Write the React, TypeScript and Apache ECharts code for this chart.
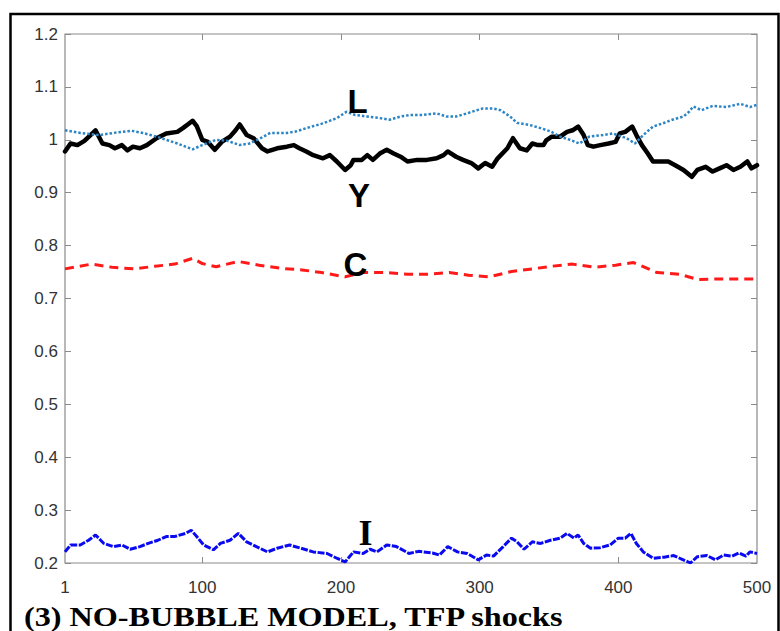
import React, { useEffect, useRef } from "react";
import * as echarts from "echarts";

// Output Y (black solid)
const tY = [1, 5, 10, 15, 19, 23, 28, 33, 37, 42, 46, 50, 55, 60, 67, 74, 82, 86, 90, 93, 96, 100, 104, 109, 114, 120, 124, 127, 132, 137, 143, 147, 154, 161, 166, 170, 175, 180, 187, 192, 197, 203, 207, 209, 215, 219, 223, 228, 233, 238, 243, 248, 255, 262, 269, 274, 277, 283, 288, 294, 299, 304, 309, 313, 320, 324, 329, 334, 338, 342, 346, 348, 352, 358, 363, 367, 371, 375, 378, 382, 387, 393, 398, 401, 405, 410, 413, 417, 421, 425, 430, 436, 441, 447, 453, 457, 463, 468, 473, 478, 483, 488, 493, 496, 500];
const vY = [0.978, 0.993, 0.99, 0.998, 1.008, 1.018, 0.993, 0.99, 0.984, 0.99, 0.98, 0.987, 0.984, 0.99, 1.003, 1.012, 1.015, 1.022, 1.03, 1.036, 1.026, 1.0, 0.996, 0.981, 0.996, 1.006, 1.018, 1.029, 1.009, 1.003, 0.984, 0.978, 0.984, 0.987, 0.99, 0.984, 0.978, 0.971, 0.965, 0.971, 0.959, 0.943, 0.952, 0.962, 0.962, 0.971, 0.962, 0.974, 0.981, 0.974, 0.968, 0.959, 0.962, 0.962, 0.965, 0.971, 0.978, 0.968, 0.962, 0.956, 0.946, 0.956, 0.949, 0.965, 0.984, 1.003, 0.984, 0.98, 0.993, 0.99, 0.99, 0.999, 1.006, 1.006, 1.015, 1.018, 1.025, 1.009, 0.99, 0.987, 0.99, 0.993, 0.996, 1.012, 1.015, 1.025, 1.009, 0.99, 0.975, 0.959, 0.959, 0.959, 0.952, 0.943, 0.93, 0.943, 0.949, 0.94, 0.946, 0.952, 0.943, 0.949, 0.959, 0.946, 0.952];

// Labour L (blue dotted)
const tL = [1, 12, 26, 36, 49, 57, 67, 74, 82, 93, 100, 110, 118, 127, 134, 142, 149, 161, 168, 175, 187, 197, 204, 210, 219, 228, 235, 243, 250, 259, 269, 276, 283, 291, 298, 302, 310, 315, 322, 327, 336, 344, 351, 358, 365, 372, 379, 389, 396, 406, 412, 418, 425, 432, 439, 447, 451, 454, 460, 468, 478, 488, 495, 500];
const vL = [1.018, 1.013, 1.009, 1.013, 1.017, 1.013, 1.006, 1.0, 0.993, 0.982, 0.99, 1.0, 0.998, 0.99, 0.993, 1.003, 1.013, 1.013, 1.016, 1.022, 1.031, 1.041, 1.053, 1.047, 1.044, 1.041, 1.038, 1.044, 1.047, 1.047, 1.05, 1.044, 1.044, 1.05, 1.056, 1.059, 1.059, 1.056, 1.044, 1.032, 1.028, 1.022, 1.016, 1.006, 1.0, 0.993, 1.006, 1.009, 1.012, 1.003, 0.993, 1.009, 1.025, 1.031, 1.038, 1.044, 1.053, 1.063, 1.056, 1.064, 1.062, 1.068, 1.062, 1.066];

// Consumption C (red dashed)
const tC = [1, 20, 35, 51, 66, 80, 93, 100, 110, 126, 141, 157, 172, 186, 203, 216, 232, 248, 263, 278, 292, 307, 323, 338, 352, 367, 383, 398, 411, 428, 444, 457, 473, 489, 500];
const vC = [0.756, 0.765, 0.759, 0.756, 0.761, 0.765, 0.776, 0.766, 0.76, 0.77, 0.763, 0.757, 0.754, 0.749, 0.741, 0.749, 0.749, 0.746, 0.746, 0.749, 0.744, 0.741, 0.751, 0.756, 0.761, 0.765, 0.759, 0.763, 0.768, 0.749, 0.746, 0.736, 0.737, 0.737, 0.737];

// Investment I (blue)
const tI = [1, 5, 12, 18, 23, 29, 36, 42, 48, 55, 61, 68, 74, 80, 88, 92, 96, 101, 108, 113, 120, 126, 132, 139, 147, 154, 163, 171, 180, 190, 197, 203, 209, 216, 221, 226, 233, 240, 249, 256, 266, 271, 277, 284, 291, 299, 305, 310, 317, 323, 327, 332, 338, 344, 351, 358, 363, 368, 371, 375, 380, 387, 394, 400, 405, 409, 413, 418, 425, 433, 440, 446, 452, 457, 464, 470, 476, 482, 487, 492, 495, 500];
const vI = [0.221, 0.234, 0.234, 0.243, 0.253, 0.237, 0.231, 0.234, 0.226, 0.231, 0.237, 0.243, 0.25, 0.25, 0.256, 0.262, 0.25, 0.234, 0.225, 0.237, 0.243, 0.256, 0.24, 0.231, 0.221, 0.228, 0.234, 0.228, 0.221, 0.218, 0.209, 0.202, 0.221, 0.218, 0.226, 0.221, 0.234, 0.231, 0.218, 0.222, 0.219, 0.215, 0.231, 0.221, 0.218, 0.206, 0.215, 0.213, 0.231, 0.247, 0.24, 0.226, 0.24, 0.237, 0.243, 0.247, 0.256, 0.247, 0.253, 0.237, 0.228, 0.229, 0.234, 0.247, 0.247, 0.256, 0.237, 0.221, 0.209, 0.211, 0.214, 0.207, 0.2, 0.212, 0.214, 0.206, 0.215, 0.213, 0.219, 0.213, 0.221, 0.218];

const xLabelValues = [1, 100, 200, 300, 400, 500];
const xTickValues = [100, 200, 300, 400];
const titleText = "(3) NO-BUBBLE MODEL, TFP shocks";

const pairs = (t: number[], v: number[]) => t.map((x, i) => [x, v[i]]);

const AXIS_GRAY = "#8a8a8a";
const SANS = "'Liberation Sans', Arial, Helvetica, sans-serif";
const SERIF = "'Liberation Serif', 'Times New Roman', serif";

export default function App() {
  const ref = useRef<HTMLDivElement>(null);
  useEffect(() => {
    if (!ref.current) return;
    const chart = echarts.init(ref.current, undefined, { renderer: "svg" });
    const tickCommon = { show: true, inside: true, length: 6, lineStyle: { color: AXIS_GRAY, width: 1 } };
    chart.setOption({
      animation: false,
      backgroundColor: "#ffffff",
      grid: {
        left: 65,
        top: 34,
        width: 692,
        height: 529,
        show: true,
        borderColor: AXIS_GRAY,
        borderWidth: 1.2,
        backgroundColor: "transparent",
      },
      xAxis: [
        {
          type: "value",
          min: 1,
          max: 500,
          position: "bottom",
          axisLine: { show: false },
          splitLine: { show: false },
          axisTick: { ...tickCommon, customValues: xTickValues },
          axisLabel: {
            customValues: xLabelValues,
            color: "#333",
            fontFamily: SANS,
            fontSize: 17,
            margin: 16,
          },
        },
        {
          type: "value",
          min: 1,
          max: 500,
          position: "top",
          axisLine: { show: false },
          splitLine: { show: false },
          axisTick: { ...tickCommon, customValues: xTickValues },
          axisLabel: { show: false },
        },
      ],
      yAxis: [
        {
          type: "value",
          min: 0.2,
          max: 1.2,
          interval: 0.1,
          position: "left",
          axisLine: { show: false },
          splitLine: { show: false },
          axisTick: tickCommon,
          axisLabel: {
            color: "#333",
            fontFamily: SANS,
            fontSize: 17,
            margin: 7,
            formatter: (v: number) => String(+v.toFixed(1)),
          },
        },
        {
          type: "value",
          min: 0.2,
          max: 1.2,
          interval: 0.1,
          position: "right",
          axisLine: { show: false },
          splitLine: { show: false },
          axisTick: tickCommon,
          axisLabel: { show: false },
        },
      ],
      series: [
        {
          name: "Y",
          type: "line",
          data: pairs(tY, vY),
          showSymbol: false,
          symbol: "none",
          lineStyle: { color: "#000000", width: 4.5, join: "round", cap: "round" },
          z: 3,
        },
        {
          name: "L",
          type: "line",
          data: pairs(tL, vL),
          showSymbol: false,
          symbol: "none",
          lineStyle: { color: "#2a84c6", width: 2.5, type: [2.5, 2] },
          z: 4,
        },
        {
          name: "C",
          type: "line",
          data: pairs(tC, vC),
          showSymbol: false,
          symbol: "none",
          lineStyle: { color: "#ff1a1a", width: 3, type: [9, 6] },
          z: 3,
        },
        {
          name: "I",
          type: "line",
          data: pairs(tI, vI),
          showSymbol: false,
          symbol: "none",
          lineStyle: { color: "#0a0af0", width: 3, type: [7, 1.5] },
          z: 3,
        },
      ],
      graphic: [
        {
          type: "rect",
          shape: { x: 10.5, y: 14, width: 768, height: 640 },
          style: { fill: "none", stroke: "#000", lineWidth: 2.5 },
          z: 10,
        },
        {
          type: "text",
          x: 357.5,
          y: 101,
          style: { text: "L", fontFamily: SANS, fontWeight: "bold", fontSize: 33, fill: "#000", textAlign: "center", textVerticalAlign: "middle" },
          z: 20,
        },
        {
          type: "text",
          x: 359,
          y: 195,
          style: { text: "Y", fontFamily: SANS, fontWeight: "bold", fontSize: 33, fill: "#000", textAlign: "center", textVerticalAlign: "middle" },
          z: 20,
        },
        {
          type: "text",
          x: 355.5,
          y: 264,
          style: { text: "C", fontFamily: SANS, fontWeight: "bold", fontSize: 33, fill: "#000", textAlign: "center", textVerticalAlign: "middle" },
          z: 20,
        },
        {
          type: "text",
          x: 365.5,
          y: 533,
          style: { text: "I", fontFamily: SERIF, fontWeight: "bold", fontSize: 36, fill: "#000", textAlign: "center", textVerticalAlign: "middle" },
          z: 20,
        },
        {
          type: "text",
          x: 24,
          y: 616.5,
          scaleX: 1.15,
          style: { text: titleText, fontFamily: SERIF, fontWeight: "bold", fontSize: 28, lineHeight: 24, fill: "#000", textAlign: "left", textVerticalAlign: "middle" },
          z: 20,
        },
      ],
    });
    return () => chart.dispose();
  }, []);
  return (
    <div
      ref={ref}
      style={{ position: "fixed", left: 0, top: 0, width: 780, height: 631, background: "#fff" }}
    />
  );
}
